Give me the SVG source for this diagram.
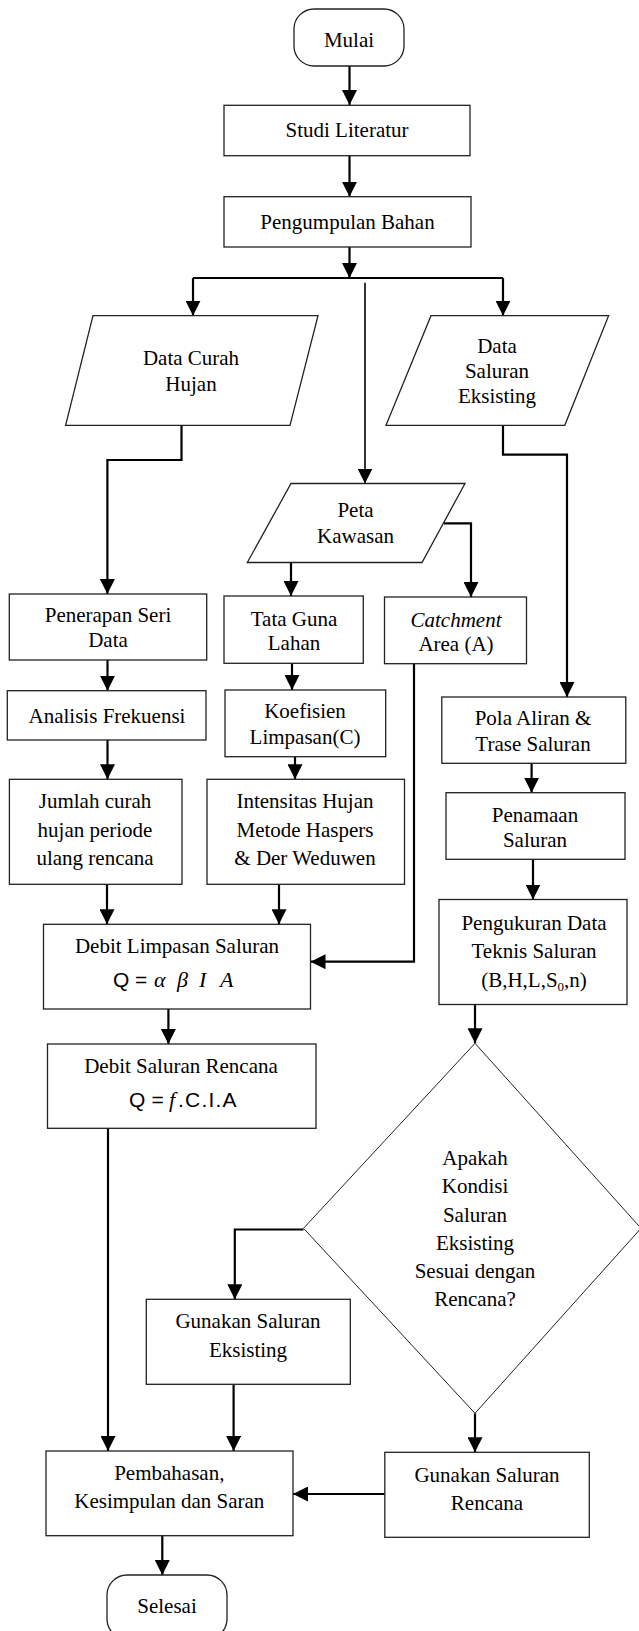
<svg xmlns="http://www.w3.org/2000/svg" width="639" height="1631" viewBox="0 0 639 1631">
<style>
.n{fill:#fff;stroke:#222;stroke-width:1.3}
.d{fill:#fff;stroke:#222;stroke-width:1}
.t{font-family:"Liberation Serif","Times New Roman",serif;font-size:21px;fill:#000;text-anchor:middle}
.f{font-family:"Liberation Sans",Arial,sans-serif;font-size:21px;fill:#000}
.m{font-family:"Liberation Serif",serif;font-style:italic;font-size:22px}
.c{fill:none;stroke:#000;stroke-width:2.2}
.c1{fill:none;stroke:#000;stroke-width:1.6}
</style>
<defs>
<marker id="ah" markerUnits="userSpaceOnUse" markerWidth="15" markerHeight="15" refX="15" refY="7.5" orient="auto">
<path d="M0,0 L15,7.5 L0,15 z" fill="#000"/>
</marker>
</defs>
<rect width="639" height="1631" fill="#fff"/>
<g id="connectors">
<path class="c" d="M349.5,66 V105" marker-end="url(#ah)"/>
<path class="c" d="M349.5,155.7 V196.7" marker-end="url(#ah)"/>
<path class="c" d="M349.5,247 V278" marker-end="url(#ah)"/>
<path class="c" d="M193,278 H503"/>
<path class="c" d="M193,278 V315.7" marker-end="url(#ah)"/>
<path class="c" d="M503,278 V315.7" marker-end="url(#ah)"/>
<path class="c1" d="M365,282.7 V483.5" marker-end="url(#ah)"/>
<path class="c" d="M181.5,425.3 V460 H107.4 V594" marker-end="url(#ah)"/>
<path class="c" d="M503,425.3 V454.7 H567 V697" marker-end="url(#ah)"/>
<path class="c" d="M291,562.5 V596" marker-end="url(#ah)"/>
<path class="c" d="M444,523.3 H471 V597" marker-end="url(#ah)"/>
<path class="c" d="M107.5,660 V690.7" marker-end="url(#ah)"/>
<path class="c" d="M292,663.3 V690" marker-end="url(#ah)"/>
<path class="c" d="M107.5,740 V779.3" marker-end="url(#ah)"/>
<path class="c" d="M295,756.7 V779.3" marker-end="url(#ah)"/>
<path class="c" d="M531.6,763.3 V792.7" marker-end="url(#ah)"/>
<path class="c" d="M533,859.3 V899.5" marker-end="url(#ah)"/>
<path class="c" d="M107,884.3 V924.3" marker-end="url(#ah)"/>
<path class="c" d="M279,884.3 V924.3" marker-end="url(#ah)"/>
<path class="c" d="M414,663.7 V961.7 H310.5" marker-end="url(#ah)"/>
<path class="c" d="M168.4,1009 V1044" marker-end="url(#ah)"/>
<path class="c" d="M108,1128.3 V1451" marker-end="url(#ah)"/>
<path class="c" d="M475,1004.5 V1043.3" marker-end="url(#ah)"/>
<path class="c" d="M303.5,1229.5 H234.8 V1299.3" marker-end="url(#ah)"/>
<path class="c" d="M475,1413.3 V1452.3" marker-end="url(#ah)"/>
<path class="c" d="M233.6,1384.3 V1451" marker-end="url(#ah)"/>
<path class="c" d="M384.8,1494 H293" marker-end="url(#ah)"/>
<path class="c" d="M162.3,1535.7 V1575" marker-end="url(#ah)"/>
</g>
<g id="mulai"><rect class="n" x="294" y="9" width="110" height="57" rx="20"/><text class="t" x="349" y="47">Mulai</text></g>
<g id="studi"><rect class="n" x="224" y="105.3" width="246" height="50.4"/><text class="t" x="347" y="137">Studi Literatur</text></g>
<g id="pengumpulan"><rect class="n" x="224" y="196.7" width="247" height="50.3"/><text class="t" x="347.5" y="228.7">Pengumpulan Bahan</text></g>
<g id="curah"><polygon class="n" points="93,315.7 318,315.7 290,425.3 65.6,425.3"/><text class="t" x="191" y="365">Data Curah</text><text class="t" x="191" y="390.7">Hujan</text></g>
<g id="saluran"><polygon class="n" points="431,315.7 608.6,315.7 564.8,425.3 386,425.3"/><text class="t" x="497" y="352.7">Data</text><text class="t" x="497" y="377.5">Saluran</text><text class="t" x="497" y="403.3">Eksisting</text></g>
<g id="peta"><polygon class="n" points="291,483.5 465,483.5 422,562.5 247.3,562.5"/><text class="t" x="355.5" y="516.7">Peta</text><text class="t" x="355.5" y="542.7">Kawasan</text></g>
<g id="penerapan"><rect class="n" x="9.3" y="594" width="197.4" height="66"/><text class="t" x="108" y="621.7">Penerapan Seri</text><text class="t" x="108" y="647.3">Data</text></g>
<g id="tataguna"><rect class="n" x="224" y="596" width="139.3" height="67.3"/><text class="t" x="294" y="625.7">Tata Guna</text><text class="t" x="294" y="650">Lahan</text></g>
<g id="catchment"><rect class="n" x="384.5" y="597" width="142" height="66.7"/><text class="t" x="456" y="626.7"><tspan font-style="italic">Catchment</tspan></text><text class="t" x="456" y="651">Area (A)</text></g>
<g id="analisis"><rect class="n" x="7.3" y="690.7" width="198.7" height="49.3"/><text class="t" x="107" y="723.3">Analisis Frekuensi</text></g>
<g id="koefisien"><rect class="n" x="225" y="690" width="160.7" height="66.7"/><text class="t" x="305" y="718.3">Koefisien</text><text class="t" x="305" y="744">Limpasan(C)</text></g>
<g id="pola"><rect class="n" x="441.8" y="697" width="184" height="66.3"/><text class="t" x="533" y="725.3">Pola Aliran &amp;</text><text class="t" x="533" y="750.7">Trase Saluran</text></g>
<g id="penamaan"><rect class="n" x="446" y="792.7" width="179" height="66.6"/><text class="t" x="535" y="821.7">Penamaan</text><text class="t" x="535" y="846.7">Saluran</text></g>
<g id="jumlah"><rect class="n" x="9.4" y="779.3" width="172.6" height="105"/><text class="t" x="95" y="808.3">Jumlah curah</text><text class="t" x="95" y="836.7">hujan periode</text><text class="t" x="95" y="865">ulang rencana</text></g>
<g id="intensitas"><rect class="n" x="207" y="779.3" width="197.5" height="105"/><text class="t" x="305" y="808.3">Intensitas Hujan</text><text class="t" x="305" y="836.7">Metode Haspers</text><text class="t" x="305" y="865">&amp; Der Weduwen</text></g>
<g id="pengukuran"><rect class="n" x="439" y="899.5" width="188" height="105"/><text class="t" x="534" y="930">Pengukuran Data</text><text class="t" x="534" y="958.3">Teknis Saluran</text><text class="t" x="534" y="986.7">(B,H,L,S<tspan font-size="13" dy="4">0</tspan><tspan dy="-4">,n)</tspan></text></g>
<g id="debitlimpasan"><rect class="n" x="43.5" y="924.3" width="267" height="84.7"/><text class="t" x="177" y="953.3">Debit Limpasan Saluran</text><text class="f" y="986.7"><tspan x="113">Q</tspan><tspan x="135">=</tspan><tspan class="m" x="154">α</tspan><tspan class="m" x="177">β</tspan><tspan class="m" x="199">I</tspan><tspan class="m" x="220">A</tspan></text></g>
<g id="debitrencana"><rect class="n" x="47.5" y="1044" width="268.5" height="84.3"/><text class="t" x="181" y="1072.7">Debit Saluran Rencana</text><text class="f" y="1106.7"><tspan x="129">Q</tspan><tspan x="151.5">=</tspan><tspan class="m" x="169">f</tspan><tspan x="178" letter-spacing="1.2">.C.I.A</tspan></text></g>
<g id="keputusan"><polygon class="d" points="475,1043.3 641,1228.3 475,1413.3 303.5,1228.3"/><text class="t" x="475" y="1165">Apakah</text><text class="t" x="475" y="1193.3">Kondisi</text><text class="t" x="475" y="1221.6">Saluran</text><text class="t" x="475" y="1249.9">Eksisting</text><text class="t" x="475" y="1278.2">Sesuai dengan</text><text class="t" x="475" y="1306">Rencana?</text></g>
<g id="eksisting"><rect class="n" x="146.3" y="1299.3" width="204" height="85"/><text class="t" x="248" y="1328.3">Gunakan Saluran</text><text class="t" x="248" y="1357.3">Eksisting</text></g>
<g id="pembahasan"><rect class="n" x="46" y="1451" width="247" height="84.7"/><text class="t" x="169.3" y="1480">Pembahasan,</text><text class="t" x="169.3" y="1508.3">Kesimpulan dan Saran</text></g>
<g id="rencana"><rect class="n" x="384.8" y="1452.3" width="204.5" height="85"/><text class="t" x="487" y="1481.7">Gunakan Saluran</text><text class="t" x="487" y="1510">Rencana</text></g>
<g id="selesai"><rect class="n" x="107" y="1575" width="120" height="64" rx="20"/><text class="t" x="167" y="1613">Selesai</text></g>
</svg>
